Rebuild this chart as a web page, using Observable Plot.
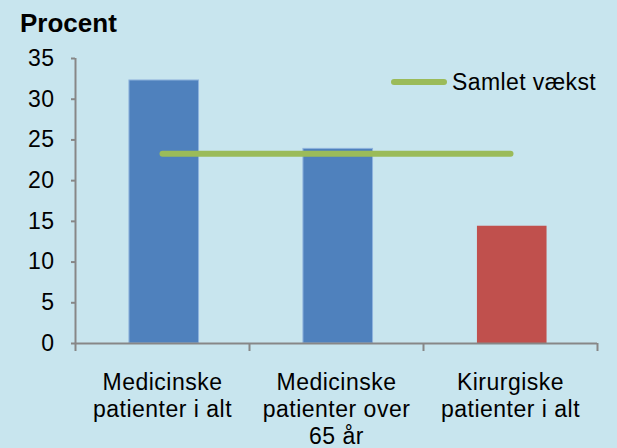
<!DOCTYPE html>
<html>
<head>
<meta charset="utf-8">
<script src="https://cdn.jsdelivr.net/npm/d3@7"></script>
<script src="https://cdn.jsdelivr.net/npm/@observablehq/plot@0.6"></script>
<style>
  html, body { margin: 0; padding: 0; background: #c8e5ee; }
  #wrap { position: relative; width: 617px; height: 448px; background: #c8e5ee; font-family: "Liberation Sans", Arial, sans-serif; overflow: hidden; }
  #title { position: absolute; left: 20px; top: 8px; font-size: 26px; font-weight: bold; color: #000; }
  #legend { position: absolute; left: 391px; top: 67px; height: 30px; font-size: 23px; color: #000; display: flex; align-items: center; letter-spacing: 0.4px; }
  #legend .sw { width: 56px; height: 6px; border-radius: 3px; background: #9bbb59; margin-right: 5px; }
  #chart { position: absolute; left: 0; top: 0; }
</style>
</head>
<body>
<div id="wrap">
  <div id="chart"></div>
  <div id="title">Procent</div>
  <div id="legend"><span class="sw"></span><span>Samlet vækst</span></div>
</div>
<script>
const categories = ["Medicinske\npatienter i alt", "Medicinske\npatienter over\n65 år", "Kirurgiske\npatienter i alt"];
const values = [32.3, 23.9, 14.4];
const barColors = ["#4f81bd", "#4f81bd", "#c0504d"];
const samletVaekst = [23.3, 23.3, 23.3];
const yTicks = [0, 5, 10, 15, 20, 25, 30, 35];

const data = categories.map((c, i) => ({i, c, v: values[i], color: barColors[i], s: samletVaekst[i]}));
const axisGray = "#878787";

const plot = Plot.plot({
  width: 617,
  height: 448,
  marginTop: 58,
  marginBottom: 105,
  marginLeft: 75,
  marginRight: 20,
  style: {background: "transparent", fontFamily: "'Liberation Sans', Arial, sans-serif", fontSize: "23px", color: "#000", letterSpacing: "0.5px"},
  x: {type: "linear", domain: [0, categories.length], axis: null},
  y: {domain: [0, 35], axis: null},
  marks: [
    Plot.rectY(data, {x1: d => d.i + 0.31, x2: d => d.i + 0.71, y: "v", fill: "color", stroke: d => d.color === "#4f81bd" ? "#8fb3dd" : "none", strokeWidth: 1}),
    Plot.line(data, {x: d => d.i + 0.5, y: "s", stroke: "#9bbb59", strokeWidth: 6, strokeLinecap: "round"}),
    Plot.ruleX([0], {stroke: axisGray, strokeWidth: 2}),
    Plot.ruleY([0], {stroke: axisGray, strokeWidth: 2}),
    Plot.axisY({ticks: yTicks, tickSize: 4, tickPadding: 17, stroke: axisGray, strokeWidth: 2, fill: "#000", fontSize: 23, tickFormat: d => String(d)}),
    Plot.axisX({ticks: d3.range(categories.length + 1), tickSize: 8, tickFormat: () => "", stroke: axisGray, strokeWidth: 2}),
    Plot.text(data, {x: d => d.i + 0.5, y: 0, text: "c", dy: 28, lineAnchor: "top", lineHeight: 1.16, fontSize: 23, fill: "#000", textAnchor: "middle"})
  ]
});
document.getElementById("chart").appendChild(plot);
</script>
</body>
</html>
